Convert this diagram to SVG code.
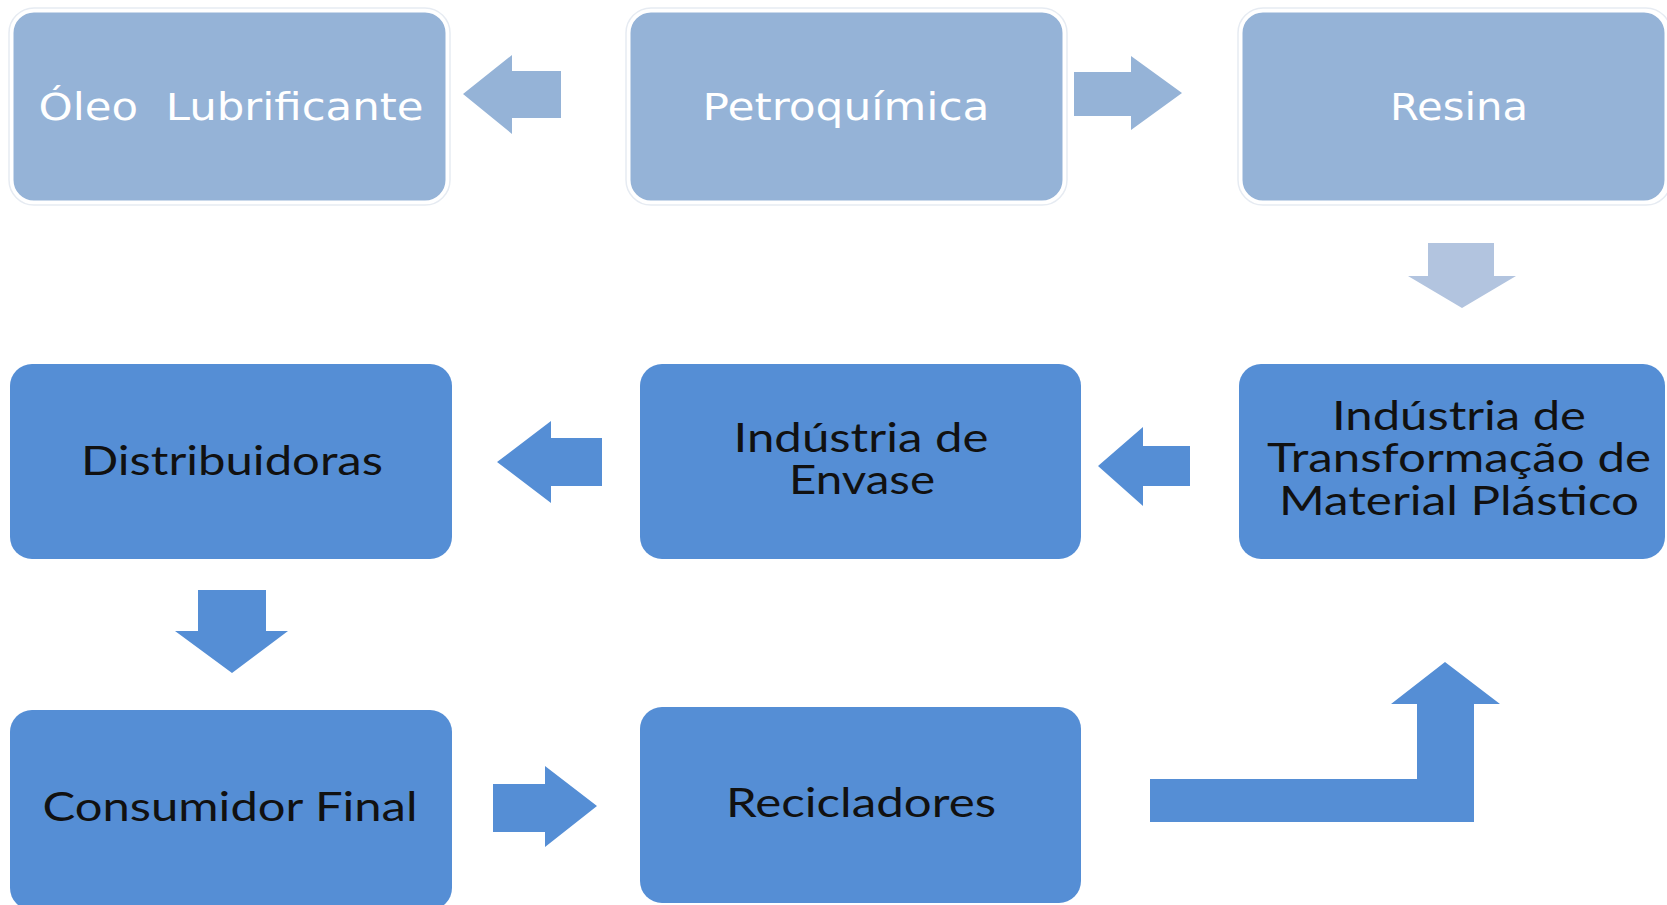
<svg xmlns="http://www.w3.org/2000/svg" width="1667" height="905" viewBox="0 0 1667 905">
<style>
.lbox{fill:#95B3D7;stroke:#FFFFFF;stroke-width:3}
.lout{fill:none;stroke:#E6EBF2;stroke-width:1.5}
.dbox{fill:#558ED5}
.larr{fill:#95B3D7}
.larr2{fill:#B2C4DF}
.darr{fill:#558ED5}
.wt{font-family:"DejaVu Sans","Verdana",sans-serif;font-size:37px;fill:#FFFFFF;text-anchor:middle}
.bt{font-family:"Lato","Liberation Sans",sans-serif;font-size:40px;fill:#111111;text-anchor:middle}
</style>
<rect width="1667" height="905" fill="#FFFFFF"/>
<g id="node-oleo">
<rect class="lout" x="9" y="8" width="441" height="197" rx="25"/>
<rect class="lbox" x="12" y="11" width="435" height="191" rx="22"/>
<text class="wt" x="231" y="120" xml:space="preserve" textLength="385" lengthAdjust="spacingAndGlyphs">Óleo  Lubrificante</text>
</g>
<g id="node-petroquimica">
<rect class="lout" x="626" y="8" width="441" height="197" rx="25"/>
<rect class="lbox" x="629" y="11" width="435" height="191" rx="22"/>
<text class="wt" x="846" y="120" textLength="287" lengthAdjust="spacingAndGlyphs">Petroquímica</text>
</g>
<g id="node-resina">
<rect class="lout" x="1238" y="8" width="433" height="197" rx="25"/>
<rect class="lbox" x="1241" y="11" width="425" height="191" rx="22"/>
<text class="wt" x="1459" y="120" textLength="138" lengthAdjust="spacingAndGlyphs">Resina</text>
</g>
<g id="node-distribuidoras">
<rect class="dbox" x="10" y="364" width="442" height="195" rx="22"/>
<text class="bt" x="232" y="475" textLength="302" lengthAdjust="spacingAndGlyphs">Distribuidoras</text>
</g>
<g id="node-envase">
<rect class="dbox" x="640" y="364" width="441" height="195" rx="22"/>
<text class="bt" x="861" y="452" textLength="255" lengthAdjust="spacingAndGlyphs">Indústria de</text>
<text class="bt" x="862" y="494" textLength="146" lengthAdjust="spacingAndGlyphs">Envase</text>
</g>
<g id="node-transformacao">
<rect class="dbox" x="1239" y="364" width="426" height="195" rx="22"/>
<text class="bt" x="1459" y="430" textLength="254" lengthAdjust="spacingAndGlyphs">Indústria de</text>
<text class="bt" x="1459" y="472" textLength="384" lengthAdjust="spacingAndGlyphs">Transformação de</text>
<text class="bt" x="1459" y="515" textLength="360" lengthAdjust="spacingAndGlyphs">Material Plástico</text>
</g>
<g id="node-consumidor">
<rect class="dbox" x="10" y="710" width="442" height="200" rx="22"/>
<text class="bt" x="230" y="821" textLength="375" lengthAdjust="spacingAndGlyphs">Consumidor Final</text>
</g>
<g id="node-recicladores">
<rect class="dbox" x="640" y="707" width="441" height="196" rx="22"/>
<text class="bt" x="861" y="817" textLength="270" lengthAdjust="spacingAndGlyphs">Recicladores</text>
</g>
<g id="connectors">
<polygon class="larr" points="463,94 512,55 512,71 561,71 561,118 512,118 512,134"/>
<polygon class="larr" points="1074,72 1131,72 1131,56 1182,93 1131,130 1131,116 1074,116"/>
<polygon class="larr2" points="1428,243 1494,243 1494,276 1516,276 1462,308 1408,276 1428,276"/>
<polygon class="darr" points="497,462 551,421 551,438 602,438 602,486 551,486 551,503"/>
<polygon class="darr" points="1098,466 1143,427 1143,446 1190,446 1190,486 1143,486 1143,506"/>
<polygon class="darr" points="198,590 266,590 266,631 288,631 232,673 175,631 198,631"/>
<polygon class="darr" points="493,784 545,784 545,766 597,806 545,847 545,832 493,832"/>
<polygon class="darr" points="1150,779 1417,779 1417,704 1391,704 1445,662 1500,704 1474,704 1474,822 1150,822"/>
</g>
</svg>
